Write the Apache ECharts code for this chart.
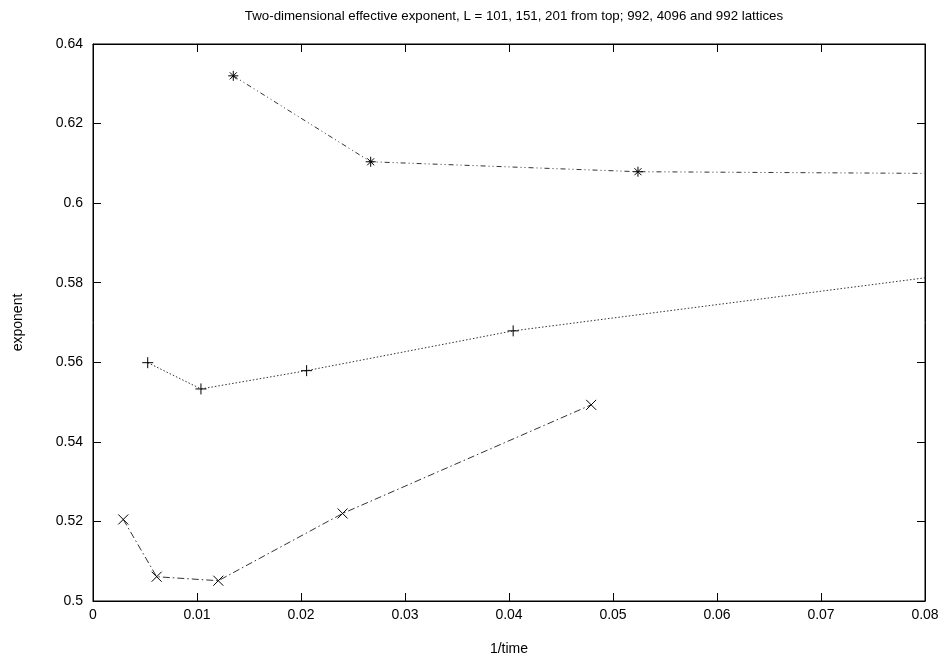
<!DOCTYPE html>
<html>
<head>
<meta charset="utf-8">
<script src="https://cdn.jsdelivr.net/npm/echarts@6/dist/echarts.min.js"></script>
<style>html,body{margin:0;padding:0;background:#fff}#c{width:946px;height:658px}</style>
</head>
<body>
<div id="c"></div>
<script>
// Data
const titleText = 'Two-dimensional effective exponent, L = 101, 151, 201 from top; 992, 4096 and 992 lattices';
const xName = '1/time';
const yName = 'exponent';
const topX = [0.01349, 0.0267, 0.0524, 0.105];
const topY = [0.6320, 0.6104, 0.6079, 0.6071];
const midX = [0.00526, 0.01038, 0.02054, 0.0404, 0.082];
const midY = [0.5599, 0.5533, 0.5579, 0.5679, 0.5819];
const lowX = [0.00291, 0.00612, 0.01205, 0.0240, 0.0479];
const lowY = [0.5205, 0.5061, 0.5051, 0.5220, 0.5493];

const pair = (xs, ys) => xs.map((x, i) => [x, ys[i]]);

const FONT = 'Liberation Sans, Arial, sans-serif';
const asterisk = 'path://M5,0L5,10M0,5L10,5M1.5,1.5L8.5,8.5M1.5,8.5L8.5,1.5';
const plus = 'path://M5,0L5,10M0,5L10,5';
const cross = 'path://M0,0L10,10M0,10L10,0';

const chart = echarts.init(document.getElementById('c'), null, {renderer: 'canvas'});
const markerStyle = {color: 'none', borderColor: '#000', borderWidth: 1};

chart.setOption({
  backgroundColor: '#fff',
  animation: false,
  title: {
    text: titleText, left: 509, top: 5, textAlign: 'center',
    textStyle: {fontFamily: FONT, fontSize: 13.3, fontWeight: 'normal', color: '#000'}
  },
  grid: {left: 93, right: 21, top: 44, bottom: 57, show: true, borderColor: '#000', borderWidth: 1, backgroundColor: 'transparent', containLabel: false, outerBoundsMode: 'none'},
  xAxis: [{
    type: 'value', min: 0, max: 0.08, interval: 0.01,
    name: xName, nameLocation: 'middle', nameGap: 41,
    nameTextStyle: {fontFamily: FONT, fontSize: 14, color: '#000'},
    axisLine: {show: true, onZero: false, lineStyle: {color: '#000'}},
    axisTick: {show: true, inside: true, length: 8, lineStyle: {color: '#000'}},
    axisLabel: {fontFamily: FONT, fontSize: 14, color: '#000', margin: 7},
    splitLine: {show: false}
  }, {
    type: 'value', min: 0, max: 0.08, interval: 0.01, position: 'top',
    axisLine: {show: true, onZero: false, lineStyle: {color: '#000'}},
    axisTick: {show: true, inside: true, length: 8, lineStyle: {color: '#000'}},
    axisLabel: {show: false}, splitLine: {show: false}
  }],
  yAxis: [{
    type: 'value', min: 0.5, max: 0.64, interval: 0.02,
    name: yName, nameLocation: 'middle', nameGap: 68, nameRotate: 90,
    nameTextStyle: {fontFamily: FONT, fontSize: 14, color: '#000'},
    axisLine: {show: true, onZero: false, lineStyle: {color: '#000'}},
    axisTick: {show: true, inside: true, length: 8, lineStyle: {color: '#000'}},
    axisLabel: {fontFamily: FONT, fontSize: 14, color: '#000', margin: 10},
    splitLine: {show: false}
  }, {
    type: 'value', min: 0.5, max: 0.64, interval: 0.02, position: 'right',
    axisLine: {show: true, onZero: false, lineStyle: {color: '#000'}},
    axisTick: {show: true, inside: true, length: 8, lineStyle: {color: '#000'}},
    axisLabel: {show: false}, splitLine: {show: false}
  }],
  series: [{
    type: 'line', data: pair(topX, topY), clip: true,
    symbol: asterisk, symbolSize: 10, showAllSymbol: true,
    itemStyle: markerStyle,
    lineStyle: {color: '#333', width: 1, type: [5, 3, 1, 3, 1, 3]}
  }, {
    type: 'line', data: pair(midX, midY), clip: true,
    symbol: plus, symbolSize: 11, showAllSymbol: true,
    itemStyle: markerStyle,
    lineStyle: {color: '#333', width: 1, type: [1.5, 2]}
  }, {
    type: 'line', data: pair(lowX, lowY), clip: true,
    symbol: cross, symbolSize: 10, showAllSymbol: true,
    itemStyle: markerStyle,
    lineStyle: {color: '#333', width: 1, type: [7, 3, 1.5, 3]}
  }]
});
</script>
</body>
</html>
